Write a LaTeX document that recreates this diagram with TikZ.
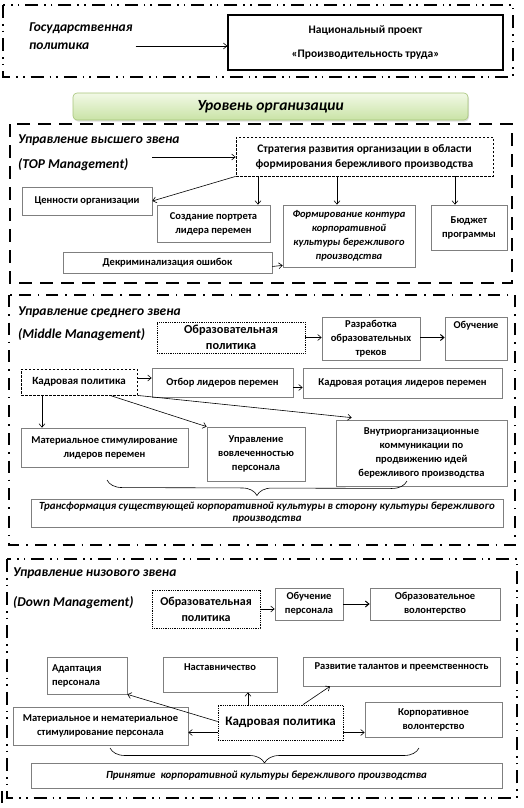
\documentclass[tikz,border=0pt]{standalone}
\usepackage{fontspec}
\setmainfont{Carlito}
\usetikzlibrary{arrows.meta,decorations.pathreplacing,shadows}
\definecolor{boxgray}{HTML}{7F7F7F}
\definecolor{grtop}{HTML}{F2F9E6}
\definecolor{grbot}{HTML}{C9E3A6}
\definecolor{grdraw}{HTML}{A6C47A}
\newcommand\BX[7][]{\node[box,minimum width={#5-#3},minimum height={#6-#4},#1] (#2) at ({(#3+#5)/2},{-(#4+#6)/2}) {#7};}
\begin{document}
\begin{tikzpicture}[x=1pt,y=1pt,
  box/.style={draw=boxgray, line width=0.7pt, fill=white, align=center, inner sep=2pt,
    font=\fontsize{10.5}{14}\selectfont\bfseries},
  ital/.style={font=\fontsize{10.5}{14}\selectfont\bfseries\itshape},
  dotbox/.style={draw=black, line width=0.8pt, dash pattern=on 0.9pt off 0.9pt, font=\fontsize{12}{16}\selectfont\bfseries},
  dashbox/.style={draw=black, line width=0.8pt, dash pattern=on 2.5pt off 1.5pt},
  arr/.style={-{Straight Barb[length=3.5pt,width=6pt]}, line width=0.6pt},
  hdr/.style={font=\fontsize{13.5}{18}\selectfont\bfseries\itshape, anchor=west, inner sep=0pt, align=left},
  frameDDD/.style={line width=1.6pt, dash pattern=on 13pt off 6pt on 1.6pt off 5pt on 1.6pt off 6pt},
  frameD/.style={line width=1.6pt, dash pattern=on 13pt off 8pt},
  frameDD/.style={line width=1.6pt, dash pattern=on 12pt off 7pt on 1.6pt off 7pt},
  brc/.style={decorate, decoration={brace, mirror, amplitude=15pt}, line width=0.6pt}
]
\useasboundingbox (0,0) rectangle (523,-808);

% ---------- state level
\draw[frameDDD] (3,-5) rectangle (513,-77);
\node[hdr] (gos) at (29,-36) {Государственная\\политика};
\BX[draw=black, line width=1.3pt, font=\fontsize{11.5}{13}\selectfont\bfseries]{natl}{228}{15}{503}{70}{Национальный проект\\[11pt]«Производительность труда»}
\draw[arr] ([xshift=3pt,yshift=-10pt]gos.east) -- ([yshift=-10pt]gos.east -| natl.west);

% ---------- organisation level
\node[draw=grdraw, line width=0.6pt, rounded corners=4pt, top color=grtop, bottom color=grbot,
  drop shadow={shadow xshift=1pt, shadow yshift=-1.5pt, opacity=0.25},
  minimum width=395, minimum height=27, font=\fontsize{15.5}{18}\selectfont\bfseries\itshape]
  (org) at (270.5,-106.5) {Уровень организации};

% ---------- top management
\draw[frameD] (10,-124) rectangle (512,-283);
\node[hdr] (top1) at (18,-140) {Управление высшего звена};
\node[hdr] (top2) at (18,-165) {(TOP Management)};
\BX[dashbox, draw=black, font=\fontsize{11.5}{15}\selectfont\bfseries]{strat}{236}{137}{493}{176}{Стратегия развития организации в области\\формирования бережливого производства}
\coordinate (a1) at (152,-157);
\draw[arr] (a1) -- (a1 -| strat.west);
\BX{cen}{22}{187}{152}{215}{Ценности организации}
\BX{sozd}{157}{205}{270}{242}{Создание портрета\\лидера перемен}
\BX[ital]{form}{283}{205}{415}{267}{Формирование контура\\корпоративной\\культуры бережливого\\производства}
\BX{bud}{431}{205}{507}{250}{Бюджет\\программы}
\BX{dekr}{63}{252}{272}{273}{Декриминализация ошибок}
\draw[arr] (strat.south west) -- (cen.east);
\draw[arr] (strat.south -| 258,0) -- (sozd.north -| 258,0);
\draw[arr] (strat.south -| 337,0) -- (form.north -| 337,0);
\draw[arr] (strat.south -| 455,0) -- (bud.north -| 455,0);
\draw[arr] ([yshift=-4pt]dekr.east) -- ([yshift=2pt]form.south west);

% ---------- middle management
\draw[frameDD] (9,-295) rectangle (515,-545);
\node[hdr] (mid1) at (18,-312) {Управление среднего звена};
\node[hdr] (mid2) at (18,-335) {(Middle Management)};
\BX[dotbox, font=\fontsize{12.3}{16}\selectfont\bfseries]{obr}{157}{322}{305}{353}{Образовательная\\политика}
\BX{razr}{322}{317}{420}{360}{Разработка\\образовательных\\треков}
\BX{obuch}{445}{317}{507}{360}{Обучение\\\phantom{x}\\\phantom{x}}
\draw[arr] (obr.east) -- (obr.east -| razr.west);
\draw[arr, line width=1pt] (razr.east |- obr.east) -- (obr.east -| obuch.west);
\BX[dashbox, draw=black, font=\fontsize{11}{14}\selectfont\bfseries]{kadr}{21}{369}{137}{395}{Кадровая политика}
\BX{otbor}{152}{368}{293}{397}{Отбор лидеров перемен}
\BX{rot}{303}{368}{502}{398}{Кадровая ротация лидеров перемен}
\draw[arr] ([yshift=4pt]kadr.east) -- ([yshift=4pt]kadr.east -| otbor.west);
\draw[arr] ([yshift=-5pt]otbor.east) -- ([yshift=-5pt]otbor.east -| rot.west);
\BX{mat}{21}{428}{188}{467}{Материальное стимулирование\\лидеров перемен}
\BX{upr}{207}{427}{305}{481}{Управление\\вовлеченностью\\персонала}
\BX{vnutr}{336}{420}{507}{486}{Внутриорганизационные\\коммуникации по\\продвижению идей\\бережливого производства}
\draw[arr] (kadr.south -| 42,0) -- (mat.north -| 42,0);
\draw[arr] (kadr.south -| 110,0) -- (upr.north west);
\draw[arr] (kadr.south east) -- ([xshift=16pt,yshift=2pt]vnutr.north west);
\coordinate (b1) at (107,-480);
\coordinate (b2) at (407,-481);
\draw[brc] (b1) -- (b2);
\BX[font=\fontsize{10.9}{12}\selectfont\bfseries\itshape]{trans}{31}{499}{503}{527}{Трансформация существующей корпоративной культуры в сторону культуры бережливого\\производства}

% ---------- down management
\draw[frameDDD] (7,-559) rectangle (517,-798);
\node[hdr] (low1) at (13,-573) {Управление низового звена};
\node[hdr] (low2) at (13,-603) {(Down Management)};
\BX[dotbox]{obr2}{152}{590}{260}{628}{Образовательная\\политика}
\BX{obpers}{275}{588}{343}{620}{Обучение\\персонала}
\BX{obvol}{370}{588}{500}{620}{Образовательное\\волонтерство}
\draw[arr] (obr2.east) -- (obr2.east -| obpers.west);
\draw[arr, line width=1pt] (obpers.east) -- (obpers.east -| obvol.west);
\BX[align=left, text width=70pt]{adapt}{47}{657}{127}{694}{Адаптация\\персонала}
\BX{nast}{163}{657}{277}{692}{Наставничество\\\phantom{x}}
\BX{razv}{303}{657}{500}{686}{Развитие талантов и преемственность\\[-3pt]\phantom{x}}
\BX[dotbox, font=\fontsize{13}{16}\selectfont\bfseries]{kadr2}{218}{705}{343}{740}{Кадровая политика}
\BX{mat2}{13}{707}{188}{745}{Материальное и нематериальное\\стимулирование персонала}
\BX{korp}{365}{702}{502}{737}{Корпоративное\\волонтерство}
\draw[arr] ([yshift=1pt]kadr2.west) -- (adapt.south east);
\draw[arr] (kadr2.north -| 248,0) -- (nast.south -| 248,0);
\draw[arr] (kadr2.north -| 303,0) -- (razv.south -| 330,0);
\draw[arr] ([yshift=-10pt]kadr2.west) -- ([yshift=-10pt]kadr2.west -| mat2.east);
\draw[arr] ([yshift=-10pt]kadr2.east) -- ([yshift=-10pt]kadr2.east -| korp.west);
\coordinate (c1) at (110,-748);
\coordinate (c2) at (419,-748);
\draw[brc] (c1) -- (c2);
\BX[font=\fontsize{10.9}{12}\selectfont\bfseries\itshape]{prin}{31}{763}{502}{788}{Принятие\ \ корпоративной культуры бережливого производства}

% stray cursor mark
\draw[line width=1.5pt] (2,-791) -- (2,-803);
\end{tikzpicture}
\end{document}
